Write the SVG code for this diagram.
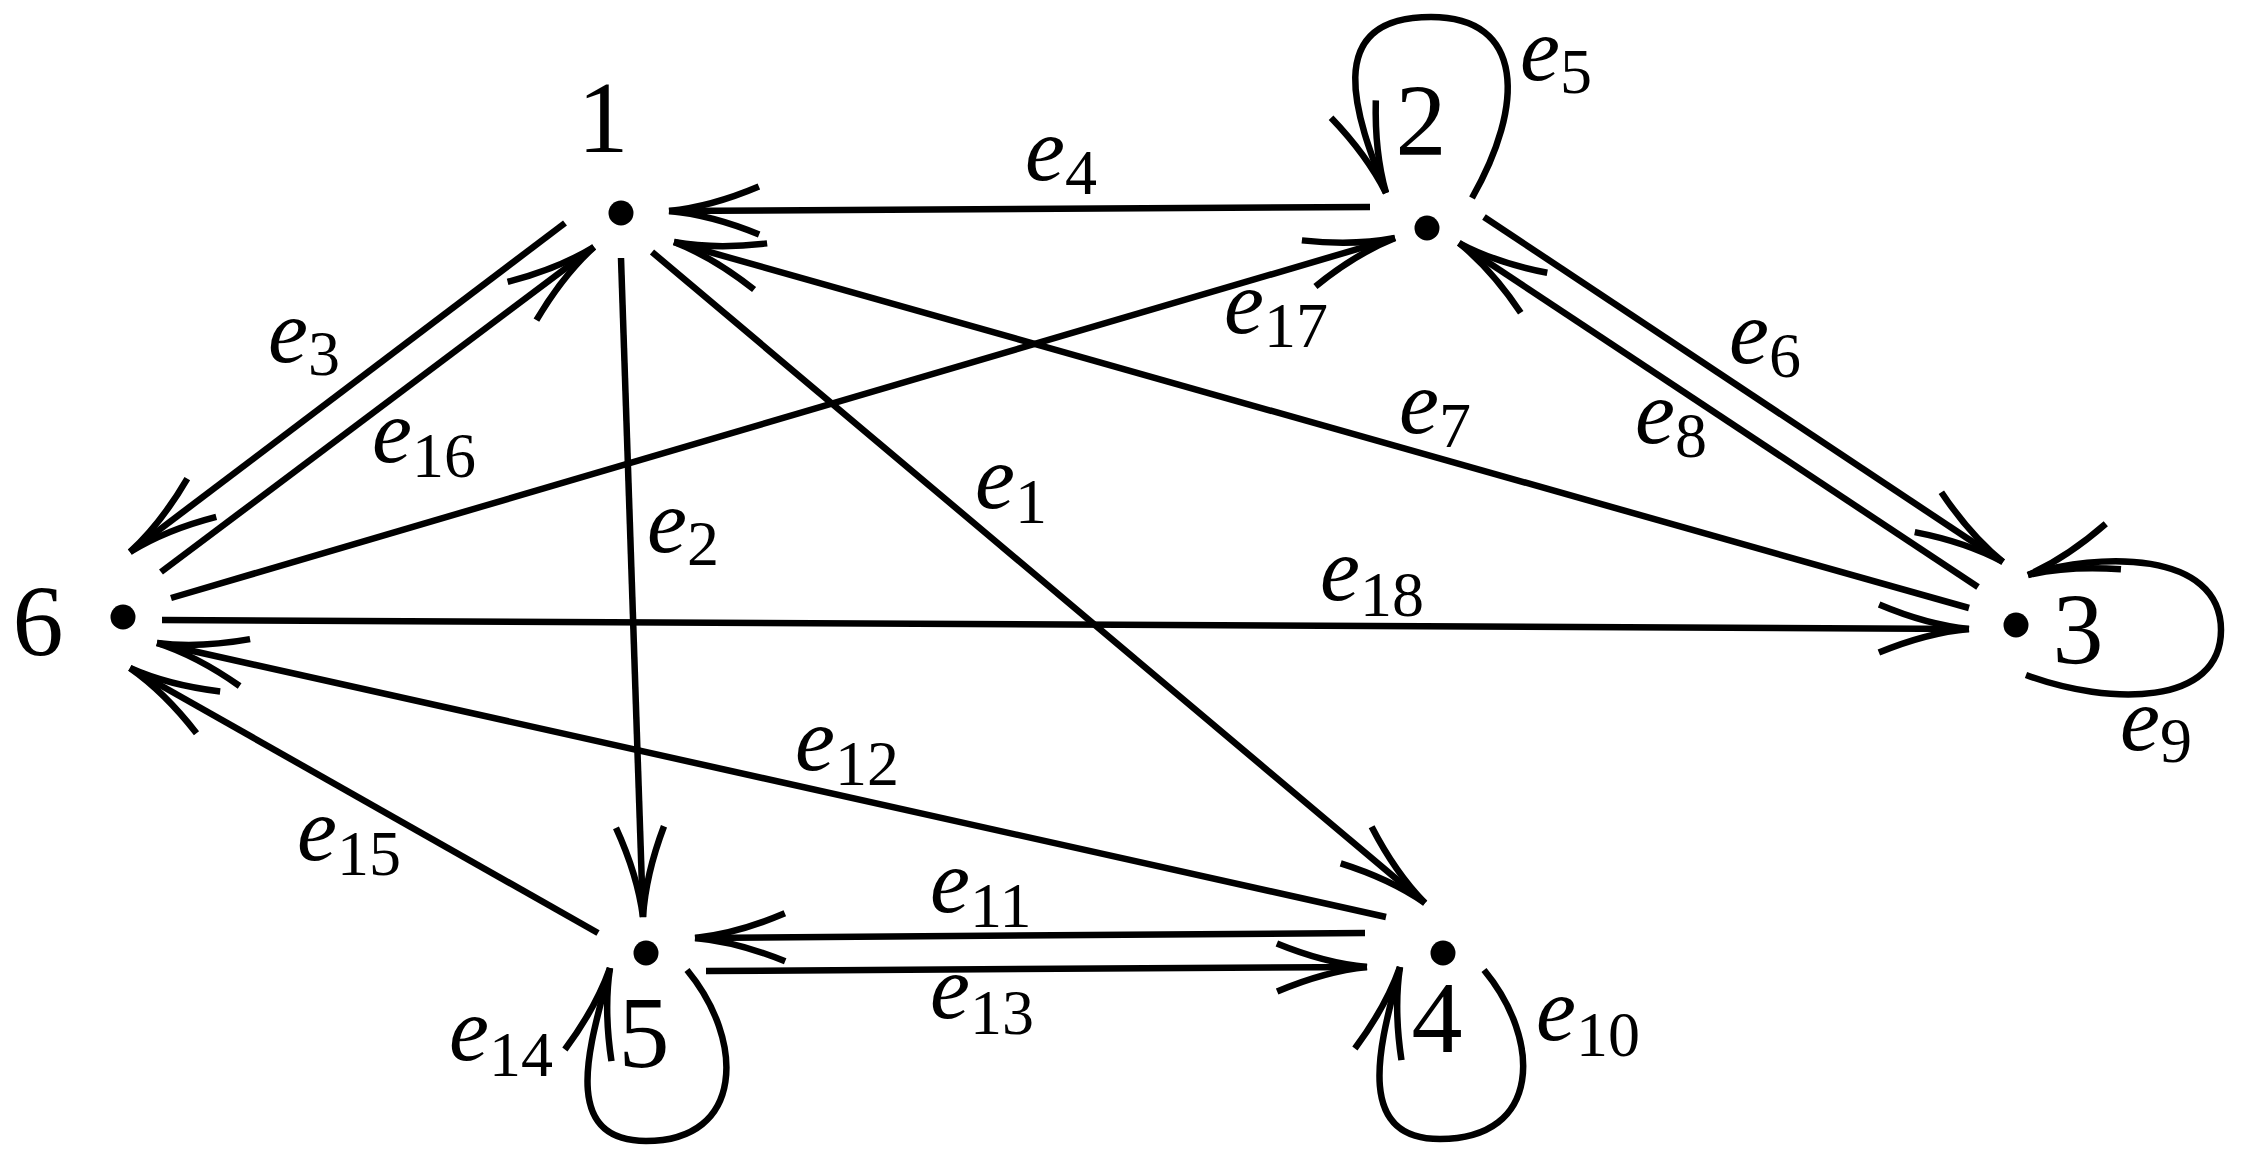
<svg xmlns="http://www.w3.org/2000/svg" width="2242" height="1160" viewBox="0 0 2242 1160">
<style>
.edge{fill:none;stroke:#000;stroke-width:6.5;stroke-linecap:butt}
.dot{fill:#000}
.nl{font-family:"Liberation Serif","DejaVu Serif",serif;font-size:102px;text-anchor:middle;fill:#000}
.el{font-family:"Liberation Serif","DejaVu Serif",serif;font-size:90px;font-style:italic;fill:#000}
.sub{font-size:64px;font-style:normal}
</style>
<defs>
<marker id="ah" markerUnits="userSpaceOnUse" viewBox="-100 -35 110 70" markerWidth="110" markerHeight="70" refX="0" refY="0" orient="auto" overflow="visible">
<path d="M-90,-24 Q-42,-4 0,0 M-90,24 Q-42,4 0,0" fill="none" stroke="#000" stroke-width="6.5" stroke-linecap="butt"/>
</marker>
</defs>
<rect width="2242" height="1160" fill="#fff"/>
<g id="connectors">
<path id="e1" class="edge" d="M652,252 L1425,903" marker-end="url(#ah)"/>
<path id="e2" class="edge" d="M621,258 L643,917" marker-end="url(#ah)"/>
<path id="e3" class="edge" d="M565,223 L130,552" marker-end="url(#ah)"/>
<path id="e4" class="edge" d="M1370,207 L669,211" marker-end="url(#ah)"/>
<path id="e5" class="edge" d="M1472,198 C1525,105 1525,17 1431,17 C1315,17 1360,126 1386,193" marker-end="url(#ah)"/>
<path id="e6" class="edge" d="M1484,217 L2003,562" marker-end="url(#ah)"/>
<path id="e7" class="edge" d="M1969,608 L674,242" marker-end="url(#ah)"/>
<path id="e8" class="edge" d="M1978,587 L1459,243" marker-end="url(#ah)"/>
<path id="e9" class="edge" d="M2026,675 C2110,706 2221,706 2221,630 C2221,550 2097,552 2028,575" marker-end="url(#ah)"/>
<path id="e10" class="edge" d="M1484,970 C1542,1040 1542,1139 1440,1139 C1349,1139 1383,1035 1400,967" marker-end="url(#ah)"/>
<path id="e11" class="edge" d="M1365,933 L695,938" marker-end="url(#ah)"/>
<path id="e12" class="edge" d="M1386,917 L157,643" marker-end="url(#ah)"/>
<path id="e13" class="edge" d="M706,971 L1367,967" marker-end="url(#ah)"/>
<path id="e14" class="edge" d="M687,970 C745,1040 745,1141 646,1141 C555,1141 593,1036 610,968" marker-end="url(#ah)"/>
<path id="e15" class="edge" d="M598,933 L130,668" marker-end="url(#ah)"/>
<path id="e16" class="edge" d="M161,572 L594,247" marker-end="url(#ah)"/>
<path id="e17" class="edge" d="M171,598 L1395,238" marker-end="url(#ah)"/>
<path id="e18" class="edge" d="M162,620 L1969,629" marker-end="url(#ah)"/>
</g>
<g id="edge-labels">
<text class="el" x="975" y="508">e<tspan class="sub" dy="15">1</tspan></text>
<text class="el" x="647" y="552">e<tspan class="sub" dy="13">2</tspan></text>
<text class="el" x="268" y="362">e<tspan class="sub" dy="13">3</tspan></text>
<text class="el" x="1025" y="180">e<tspan class="sub" dy="14">4</tspan></text>
<text class="el" x="1520" y="80">e<tspan class="sub" dy="13">5</tspan></text>
<text class="el" x="1729" y="363">e<tspan class="sub" dy="14">6</tspan></text>
<text class="el" x="1399" y="433">e<tspan class="sub" dy="14">7</tspan></text>
<text class="el" x="1635" y="443">e<tspan class="sub" dy="14">8</tspan></text>
<text class="el" x="2120" y="750">e<tspan class="sub" dy="12">9</tspan></text>
<text class="el" x="1536" y="1040">e<tspan class="sub" dy="16">10</tspan></text>
<text class="el" x="930" y="912">e<tspan class="sub" dy="15">11</tspan></text>
<text class="el" x="795" y="770">e<tspan class="sub" dy="15">12</tspan></text>
<text class="el" x="930" y="1018">e<tspan class="sub" dy="16">13</tspan></text>
<text class="el" x="449" y="1060">e<tspan class="sub" dy="16">14</tspan></text>
<text class="el" x="297" y="860">e<tspan class="sub" dy="15">15</tspan></text>
<text class="el" x="372" y="462">e<tspan class="sub" dy="15">16</tspan></text>
<text class="el" x="1224" y="333">e<tspan class="sub" dy="14">17</tspan></text>
<text class="el" x="1320" y="600">e<tspan class="sub" dy="16">18</tspan></text>
</g>
<g id="n1"><circle class="dot" cx="621" cy="213" r="12.5"/><text class="nl" x="603" y="152">1</text></g>
<g id="n2"><circle class="dot" cx="1427" cy="228" r="12.5"/><text class="nl" x="1421" y="155">2</text></g>
<g id="n3"><circle class="dot" cx="2016" cy="625" r="12.5"/><text class="nl" x="2078" y="664">3</text></g>
<g id="n4"><circle class="dot" cx="1443" cy="953" r="12.5"/><text class="nl" x="1437" y="1052">4</text></g>
<g id="n5"><circle class="dot" cx="646" cy="953" r="12.5"/><text class="nl" x="644" y="1067">5</text></g>
<g id="n6"><circle class="dot" cx="123" cy="617" r="12.5"/><text class="nl" x="38" y="656">6</text></g>
</svg>
